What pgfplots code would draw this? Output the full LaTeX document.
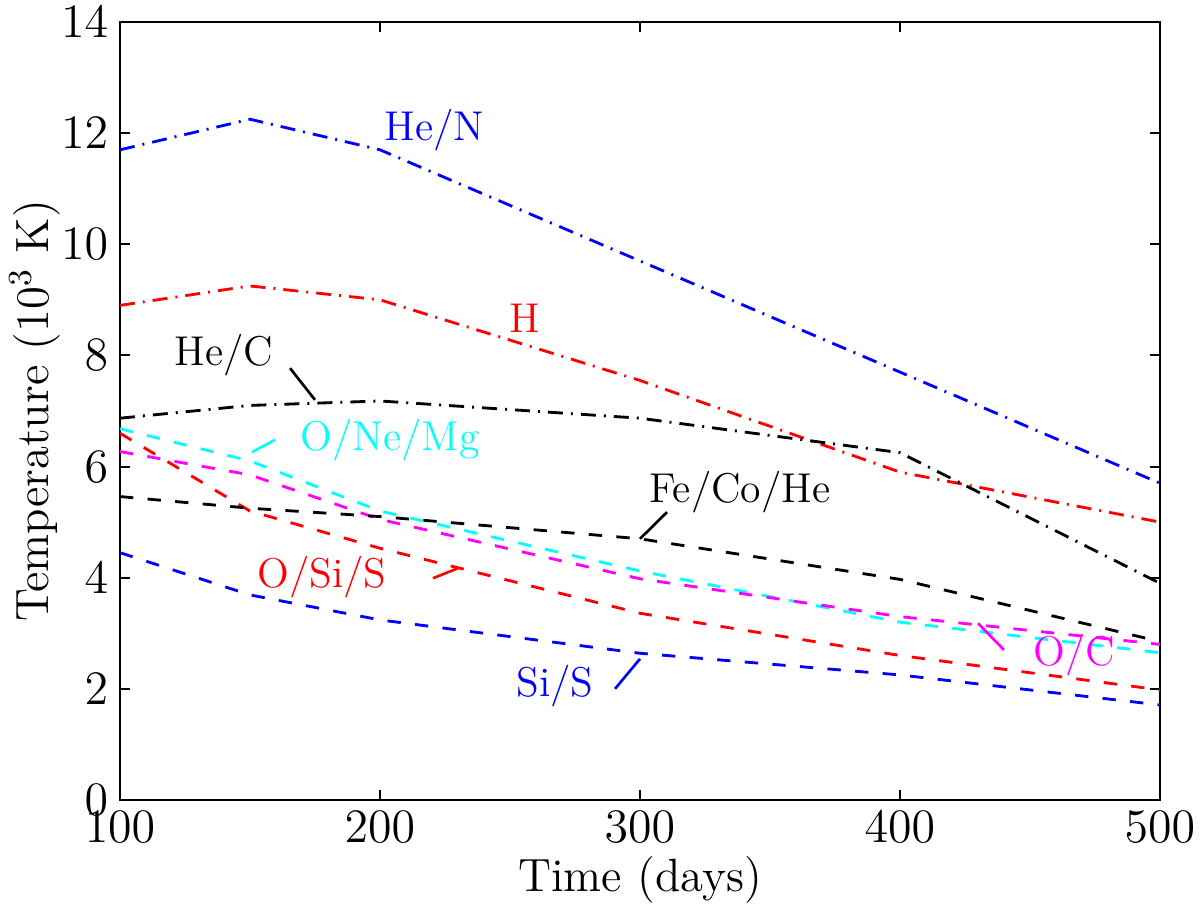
\documentclass[border=0pt]{standalone}
\usepackage{pgfplots}
\pgfplotsset{compat=1.18}
\definecolor{mcyan}{rgb}{0,1,1}
\definecolor{mmag}{rgb}{1,0,1}
\definecolor{mblue}{rgb}{0,0,1}
\definecolor{mred}{rgb}{1,0,0}
\begin{document}
\begin{tikzpicture}
\tikzset{dd/.style={line width=0.85pt, dash pattern=on 4.5pt off 2.4pt on 0.6pt off 2.4pt},
         ds/.style={line width=0.85pt, dash pattern=on 4pt off 4.3pt},
         lab/.style={font=\fontsize{12.5}{14}\selectfont, anchor=center}}
\begin{axis}[
  scale only axis, width=312pt, height=233.4pt,
  xmin=100, xmax=500, ymin=0, ymax=14,
  xtick={100,200,300,400,500}, ytick={0,2,4,6,8,10,12,14},
  tick align=inside, major tick length=3pt,
  axis line style={line width=0.8pt}, every tick/.style={line width=0.6pt, black},
  tick label style={font=\fontsize{14.5}{16}\selectfont},
  label style={font=\fontsize{14}{16}\selectfont},
  xlabel={Time (days)}, ylabel={Temperature (10$^3$ K)},
  xlabel style={at={(axis description cs:0.5,-0.103)}, anchor=center},
  ylabel style={at={(axis description cs:-0.082,0.5)}, anchor=center, rotate=0},
  clip=false,
]
\addplot[mblue, dd] coordinates {(100,11.7)(150,12.25)(200,11.7)(300,9.7)(400,7.7)(500,5.7)};
\addplot[mred, dd] coordinates {(100,8.9)(150,9.25)(200,9.0)(300,7.55)(400,5.9)(500,5.0)};
\addplot[black, dd] coordinates {(100,6.87)(150,7.1)(200,7.18)(300,6.87)(400,6.25)(500,3.9)};
\addplot[mcyan, ds] coordinates {(100,6.68)(150,6.1)(200,5.2)(300,4.12)(400,3.2)(500,2.65)};
\addplot[mmag, ds] coordinates {(100,6.27)(150,5.85)(200,5.05)(300,3.98)(400,3.3)(500,2.8)};
\addplot[mred, ds] coordinates {(100,6.6)(150,5.2)(200,4.53)(300,3.36)(400,2.6)(500,1.98)};
\addplot[black, ds] coordinates {(100,5.46)(150,5.25)(200,5.1)(300,4.7)(400,3.97)(500,2.85)};
\addplot[mblue, ds] coordinates {(100,4.45)(150,3.69)(200,3.24)(300,2.64)(400,2.25)(500,1.71)};

\node[lab, mblue] at (axis cs:221,12.06) {He/N};
\node[lab, mred] at (axis cs:255.8,8.67) {H};
\node[lab, black] at (axis cs:140,8.0) {He/C};
\draw[black, line width=0.8pt] (axis cs:165.4,7.77) -- (axis cs:175,7.2);
\node[lab, mcyan] at (axis cs:203.8,6.48) {O/Ne/Mg};
\draw[mcyan, line width=0.8pt] (axis cs:150.8,6.26) -- (axis cs:159.6,6.48);
\node[lab, black] at (axis cs:338.5,5.54) {Fe/Co/He};
\draw[black, line width=0.8pt] (axis cs:310.4,5.18) -- (axis cs:300,4.70);
\node[lab, mred] at (axis cs:177.7,4.01) {O/Si/S};
\draw[mred, line width=0.8pt] (axis cs:220.4,3.99) -- (axis cs:230,4.17);
\node[lab, mblue] at (axis cs:267.3,2.05) {Si/S};
\draw[mblue, line width=0.8pt] (axis cs:290.4,2.0) -- (axis cs:300,2.54);
\node[lab, mmag] at (axis cs:467,2.6) {O/C};
\draw[mmag, line width=0.8pt] (axis cs:430,3.18) -- (axis cs:440,2.7);

\coordinate (bbll) at (rel axis cs:-0.11538,-0.13882);
\coordinate (bbur) at (rel axis cs:1.03846,1.02828);
\end{axis}
\pgfresetboundingbox
\path (bbll) rectangle (bbur);
\end{tikzpicture}
\end{document}
